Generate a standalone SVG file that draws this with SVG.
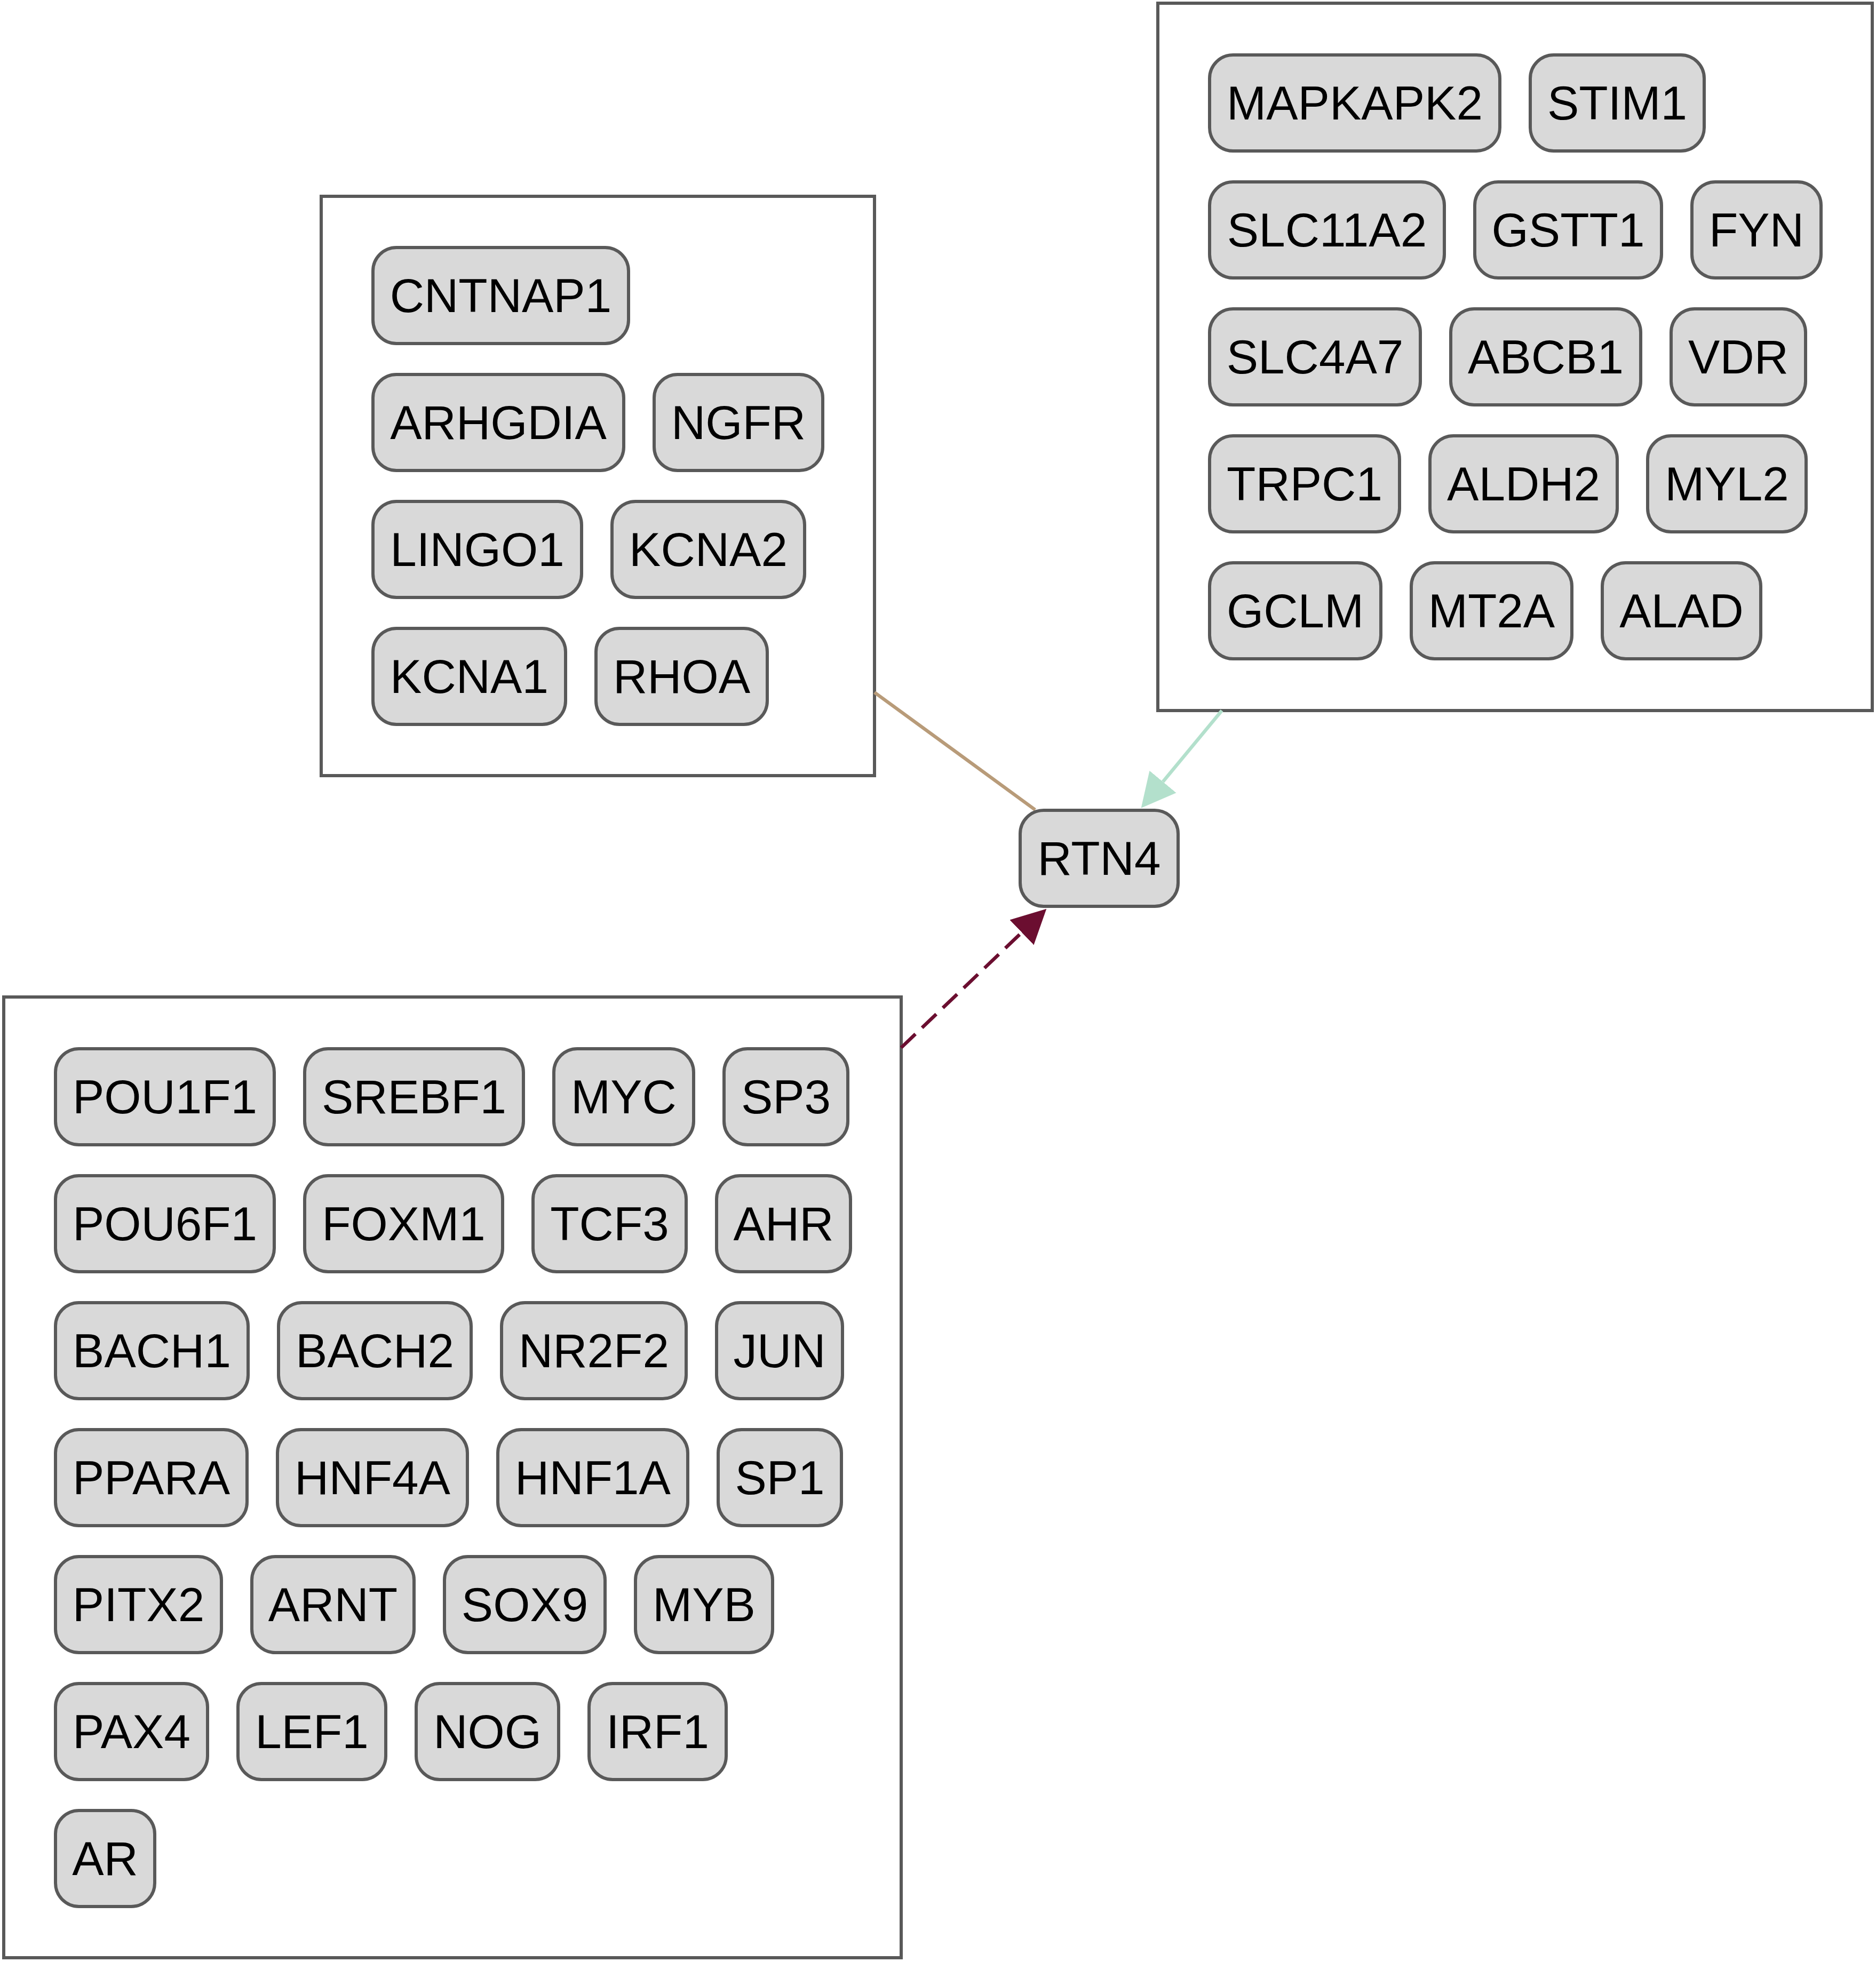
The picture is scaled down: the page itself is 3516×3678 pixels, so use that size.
<svg xmlns="http://www.w3.org/2000/svg" width="3516" height="3678" viewBox="0 0 3516 3678">
<style>
.cl{fill:#ffffff;stroke:#595959;stroke-width:6}
.nd rect{fill:#d9d9d9;stroke:#595959;stroke-width:6}
.nd text{font-family:"Liberation Sans",Arial,Helvetica,sans-serif;font-size:89px;fill:#000;text-anchor:middle}
.e{fill:none;stroke-width:6.5}
</style>
<defs>
<marker id="amint" markerUnits="userSpaceOnUse" markerWidth="64" markerHeight="66" refX="0" refY="32.5" orient="auto" viewBox="0 0 64 65"><path d="M0,0 L64,32.5 L0,65 z" fill="#b3e0cc"/></marker>
<marker id="amar" markerUnits="userSpaceOnUse" markerWidth="64" markerHeight="66" refX="0" refY="32.5" orient="auto" viewBox="0 0 64 65"><path d="M0,0 L64,32.5 L0,65 z" fill="#6b0e30"/></marker>
</defs>
<rect width="3516" height="3678" fill="#ffffff"/>
<g id="cluster1"><rect class="cl" x="602" y="368" width="1037" height="1086"/></g>
<g id="cluster2"><rect class="cl" x="2170" y="6" width="1339" height="1326"/></g>
<g id="cluster3"><rect class="cl" x="7" y="1869" width="1682" height="1801"/></g>
<g id="edges">
<path class="e" stroke="#b89b79" d="M1639,1298 L1940,1518"/>
<path class="e" stroke="#b3e0cc" d="M2290,1332 L2179.5,1465.5" marker-end="url(#amint)"/>
<path class="e" stroke="#6b0e30" stroke-dasharray="37,17" d="M1689,1964 L1915,1748" marker-end="url(#amar)"/>
</g>
<g id="RTN4" class="nd"><rect x="1912" y="1519" width="296" height="180" rx="44"/><text x="2060" y="1640">RTN4</text></g>
<g id="CNTNAP1" class="nd"><rect x="699" y="464" width="479" height="180" rx="44"/><text x="938.5" y="585">CNTNAP1</text></g>
<g id="ARHGDIA" class="nd"><rect x="699" y="702" width="470" height="180" rx="44"/><text x="934" y="823">ARHGDIA</text></g>
<g id="NGFR" class="nd"><rect x="1226" y="702" width="316" height="180" rx="44"/><text x="1384" y="823">NGFR</text></g>
<g id="LINGO1" class="nd"><rect x="699" y="940" width="391" height="180" rx="44"/><text x="894.5" y="1061">LINGO1</text></g>
<g id="KCNA2" class="nd"><rect x="1147" y="940" width="361" height="180" rx="44"/><text x="1327.5" y="1061">KCNA2</text></g>
<g id="KCNA1" class="nd"><rect x="699" y="1178" width="361" height="180" rx="44"/><text x="879.5" y="1299">KCNA1</text></g>
<g id="RHOA" class="nd"><rect x="1117" y="1178" width="321" height="180" rx="44"/><text x="1277.5" y="1299">RHOA</text></g>
<g id="MAPKAPK2" class="nd"><rect x="2267" y="103" width="544" height="180" rx="44"/><text x="2539" y="224">MAPKAPK2</text></g>
<g id="STIM1" class="nd"><rect x="2868" y="103" width="326" height="180" rx="44"/><text x="3031" y="224">STIM1</text></g>
<g id="SLC11A2" class="nd"><rect x="2267" y="341" width="440" height="180" rx="44"/><text x="2487" y="462">SLC11A2</text></g>
<g id="GSTT1" class="nd"><rect x="2764" y="341" width="350" height="180" rx="44"/><text x="2939" y="462">GSTT1</text></g>
<g id="FYN" class="nd"><rect x="3171" y="341" width="242" height="180" rx="44"/><text x="3292" y="462">FYN</text></g>
<g id="SLC4A7" class="nd"><rect x="2267" y="579" width="395" height="180" rx="44"/><text x="2464.5" y="700">SLC4A7</text></g>
<g id="ABCB1" class="nd"><rect x="2719" y="579" width="356" height="180" rx="44"/><text x="2897" y="700">ABCB1</text></g>
<g id="VDR" class="nd"><rect x="3132" y="579" width="252" height="180" rx="44"/><text x="3258" y="700">VDR</text></g>
<g id="TRPC1" class="nd"><rect x="2267" y="817" width="356" height="180" rx="44"/><text x="2445" y="938">TRPC1</text></g>
<g id="ALDH2" class="nd"><rect x="2680" y="817" width="351" height="180" rx="44"/><text x="2855.5" y="938">ALDH2</text></g>
<g id="MYL2" class="nd"><rect x="3088" y="817" width="297" height="180" rx="44"/><text x="3236.5" y="938">MYL2</text></g>
<g id="GCLM" class="nd"><rect x="2267" y="1055" width="321" height="180" rx="44"/><text x="2427.5" y="1176">GCLM</text></g>
<g id="MT2A" class="nd"><rect x="2645" y="1055" width="301" height="180" rx="44"/><text x="2795.5" y="1176">MT2A</text></g>
<g id="ALAD" class="nd"><rect x="3003" y="1055" width="297" height="180" rx="44"/><text x="3151.5" y="1176">ALAD</text></g>
<g id="POU1F1" class="nd"><rect x="104" y="1966" width="410" height="180" rx="44"/><text x="309" y="2087">POU1F1</text></g>
<g id="SREBF1" class="nd"><rect x="571" y="1966" width="410" height="180" rx="44"/><text x="776" y="2087">SREBF1</text></g>
<g id="MYC" class="nd"><rect x="1038" y="1966" width="262" height="180" rx="44"/><text x="1169" y="2087">MYC</text></g>
<g id="SP3" class="nd"><rect x="1357" y="1966" width="232" height="180" rx="44"/><text x="1473" y="2087">SP3</text></g>
<g id="POU6F1" class="nd"><rect x="104" y="2204" width="410" height="180" rx="44"/><text x="309" y="2325">POU6F1</text></g>
<g id="FOXM1" class="nd"><rect x="571" y="2204" width="371" height="180" rx="44"/><text x="756.5" y="2325">FOXM1</text></g>
<g id="TCF3" class="nd"><rect x="999" y="2204" width="287" height="180" rx="44"/><text x="1142.5" y="2325">TCF3</text></g>
<g id="AHR" class="nd"><rect x="1343" y="2204" width="251" height="180" rx="44"/><text x="1468.5" y="2325">AHR</text></g>
<g id="BACH1" class="nd"><rect x="104" y="2442" width="361" height="180" rx="44"/><text x="284.5" y="2563">BACH1</text></g>
<g id="BACH2" class="nd"><rect x="522" y="2442" width="361" height="180" rx="44"/><text x="702.5" y="2563">BACH2</text></g>
<g id="NR2F2" class="nd"><rect x="940" y="2442" width="346" height="180" rx="44"/><text x="1113" y="2563">NR2F2</text></g>
<g id="JUN" class="nd"><rect x="1343" y="2442" width="236" height="180" rx="44"/><text x="1461" y="2563">JUN</text></g>
<g id="PPARA" class="nd"><rect x="104" y="2680" width="359" height="180" rx="44"/><text x="283.5" y="2801">PPARA</text></g>
<g id="HNF4A" class="nd"><rect x="520" y="2680" width="356" height="180" rx="44"/><text x="698" y="2801">HNF4A</text></g>
<g id="HNF1A" class="nd"><rect x="933" y="2680" width="356" height="180" rx="44"/><text x="1111" y="2801">HNF1A</text></g>
<g id="SP1" class="nd"><rect x="1346" y="2680" width="231" height="180" rx="44"/><text x="1461.5" y="2801">SP1</text></g>
<g id="PITX2" class="nd"><rect x="104" y="2918" width="311" height="180" rx="44"/><text x="259.5" y="3039">PITX2</text></g>
<g id="ARNT" class="nd"><rect x="472" y="2918" width="304" height="180" rx="44"/><text x="624" y="3039">ARNT</text></g>
<g id="SOX9" class="nd"><rect x="833" y="2918" width="301" height="180" rx="44"/><text x="983.5" y="3039">SOX9</text></g>
<g id="MYB" class="nd"><rect x="1191" y="2918" width="257" height="180" rx="44"/><text x="1319.5" y="3039">MYB</text></g>
<g id="PAX4" class="nd"><rect x="104" y="3156" width="285" height="180" rx="44"/><text x="246.5" y="3277">PAX4</text></g>
<g id="LEF1" class="nd"><rect x="446" y="3156" width="277" height="180" rx="44"/><text x="584.5" y="3277">LEF1</text></g>
<g id="NOG" class="nd"><rect x="780" y="3156" width="267" height="180" rx="44"/><text x="913.5" y="3277">NOG</text></g>
<g id="IRF1" class="nd"><rect x="1104" y="3156" width="257" height="180" rx="44"/><text x="1232.5" y="3277">IRF1</text></g>
<g id="AR" class="nd"><rect x="104" y="3394" width="186" height="180" rx="44"/><text x="197" y="3515">AR</text></g>
</svg>
